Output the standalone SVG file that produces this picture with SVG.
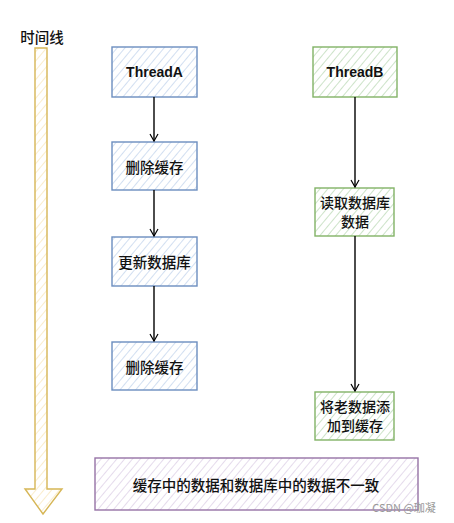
<svg xmlns="http://www.w3.org/2000/svg" width="454" height="523" viewBox="0 0 454 523">
<defs>
<pattern id="hb" patternUnits="userSpaceOnUse" width="6" height="6" patternTransform="rotate(40)"><line x1="0" y1="0" x2="0" y2="6" stroke="#b9cdea" stroke-width="1.3"/></pattern>
<pattern id="hg" patternUnits="userSpaceOnUse" width="6" height="6" patternTransform="rotate(40)"><line x1="0" y1="0" x2="0" y2="6" stroke="#b2d4ac" stroke-width="1.3"/></pattern>
<pattern id="hp" patternUnits="userSpaceOnUse" width="6" height="6" patternTransform="rotate(40)"><line x1="0" y1="0" x2="0" y2="6" stroke="#d3c3df" stroke-width="1.2"/></pattern>
<pattern id="hy" patternUnits="userSpaceOnUse" width="6" height="6" patternTransform="rotate(40)"><line x1="0" y1="0" x2="0" y2="6" stroke="#f8e3b0" stroke-width="1.3"/></pattern>
<marker id="arr" markerWidth="10" markerHeight="10" refX="8" refY="5" orient="auto" markerUnits="userSpaceOnUse"><path d="M1,1 L8,5 L1,9" fill="none" stroke="#000" stroke-width="1.2"/></marker>
</defs>
<style>
text{font-family:"Noto Sans CJK SC","Liberation Sans",sans-serif;font-size:14.5px;font-weight:500;fill:#111;text-anchor:middle;dominant-baseline:central}
.e{font-family:"Liberation Sans","Noto Sans",sans-serif;font-size:14px;font-weight:600}
.m{font-size:14px}
.b{fill:url(#hb);stroke:#6c8ebf;stroke-width:1.4}
.g{fill:url(#hg);stroke:#82b366;stroke-width:1.4}
.p{fill:url(#hp);stroke:#9673a6;stroke-width:1.4}
.y{fill:url(#hy);stroke:#d6b656;stroke-width:1.4}
.c{stroke:#000;stroke-width:1.4;fill:none;marker-end:url(#arr)}
</style>
<rect width="454" height="523" fill="#fff"/>
<g id="timeline">
<path class="y" d="M35,48 L47,48 L47,489 L62,489 L43,514 L25,489 L35,489 Z"/>
<text x="42" y="36">时间线</text>
</g>
<g id="threadA"><rect class="b" x="112" y="47" width="85" height="50"/><text class="e" x="154.5" y="72">ThreadA</text></g>
<g id="delCache1"><rect class="b" x="112" y="142" width="85" height="48"/><text x="154.5" y="166">删除缓存</text></g>
<g id="updateDb"><rect class="b" x="112" y="237" width="85" height="49"/><text x="154.5" y="261">更新数据库</text></g>
<g id="delCache2"><rect class="b" x="112" y="342" width="85" height="48"/><text x="154.5" y="366">删除缓存</text></g>
<g id="threadB"><rect class="g" x="313" y="47" width="84" height="50"/><text class="e" x="355" y="72">ThreadB</text></g>
<g id="readDb"><rect class="g" x="315" y="188" width="79" height="48"/><text class="m" x="355" y="202">读取数据库</text><text class="m" x="355" y="221">数据</text></g>
<g id="writeCache"><rect class="g" x="315" y="392" width="79" height="48"/><text class="m" x="355" y="406">将老数据添</text><text class="m" x="355" y="425">加到缓存</text></g>
<g id="result"><rect class="p" x="95" y="458" width="323" height="52"/><text x="256" y="484">缓存中的数据和数据库中的数据不一致</text></g>
<g id="connectors">
<path class="c" d="M154,97 L154,141"/>
<path class="c" d="M154,190 L154,236"/>
<path class="c" d="M154,286 L154,341"/>
<path class="c" d="M355,97 L355,187"/>
<path class="c" d="M355,236 L355,391"/>
</g>
<text x="404" y="507" style="font-size:11px;font-weight:400;fill:#999">CSDN @珈凝</text>
</svg>
